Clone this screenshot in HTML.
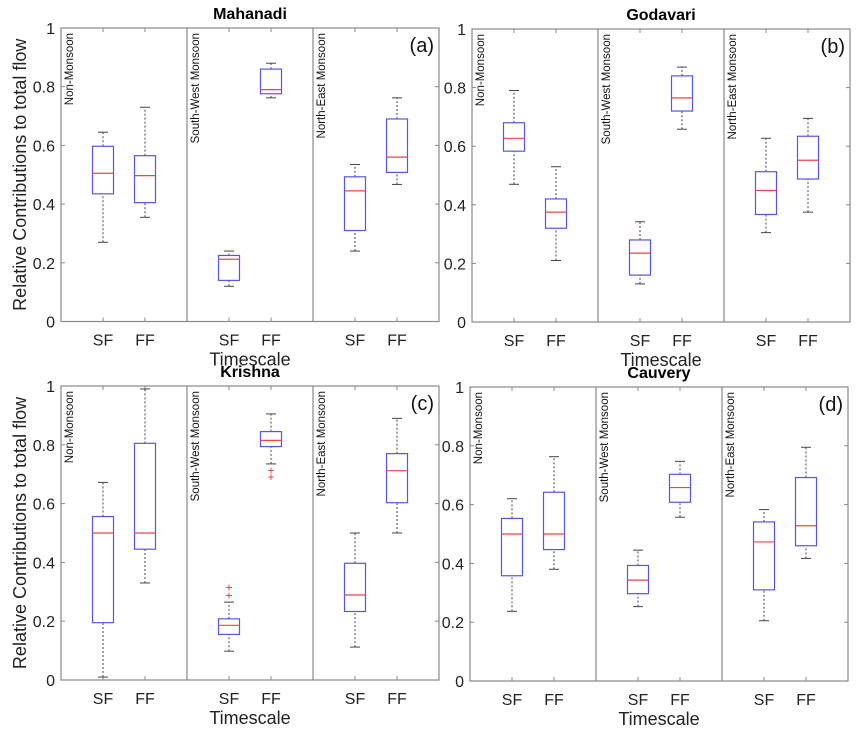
<!DOCTYPE html>
<html><head><meta charset="utf-8"><style>body{margin:0;background:#fff}svg{display:block}text{font-family:"Liberation Sans",Arial,sans-serif}</style></head>
<body>
<svg id="c" width="862" height="735" viewBox="0 0 862 735"></svg>
<script>
const panelNames = ["Mahanadi","Godavari","Krishna","Cauvery"];
const panelLetters = ["(a)","(b)","(c)","(d)"];
const seasons = ["Non-Monsoon","South-West Monsoon","North-East Monsoon"];
const categories = ["SF","FF"];
const yTicks = [0,0.2,0.4,0.6,0.8,1];
const yTickLabels = ["0","0.2","0.4","0.6","0.8","1"];
// [low whisker, q1, median, q3, high whisker] per panel, per season, per SF/FF
const mahanadi = [[[.27,.435,.505,.597,.645],[.355,.405,.497,.565,.73]],[[.12,.14,.212,.225,.24],[.762,.776,.79,.86,.88]],[[.24,.31,.445,.493,.535],[.467,.508,.56,.69,.762]]];
const godavari = [[[.47,.583,.627,.68,.79],[.21,.32,.375,.42,.53]],[[.13,.16,.235,.28,.342],[.658,.72,.765,.84,.87]],[[.305,.367,.449,.513,.627],[.375,.488,.552,.634,.695]]];
const krishna = [[[.01,.195,.5,.556,.672],[.33,.445,.5,.805,.99]],[[.098,.155,.186,.208,.265],[.735,.794,.815,.845,.905]],[[.112,.233,.289,.397,.5],[.5,.603,.712,.77,.89]]];
const cauvery = [[[.237,.358,.5,.553,.62],[.38,.447,.5,.642,.763]],[[.253,.297,.343,.393,.445],[.557,.608,.658,.703,.747]],[[.205,.31,.473,.541,.583],[.417,.46,.528,.692,.795]]];
const krishnaOutliers = [[],[[.288,.315],[.713,.69]],[]];
const panelData = [mahanadi,godavari,krishna,cauvery];
const panelOutliers = [[[],[],[]],[[],[],[]],krishnaOutliers,[[],[],[]]];

const svg = document.getElementById('c');
const NS = "http://www.w3.org/2000/svg";
function mk(tag, attrs, parent){const e=document.createElementNS(NS,tag);for(const k in attrs)e.setAttribute(k,attrs[k]);(parent||svg).appendChild(e);return e;}
const frames = [{l:61,t:28,b:321.5,r:439},{l:472,t:29,b:322,r:850},{l:61,t:386,b:680,r:439},{l:470,t:387,b:681,r:848}];

frames.forEach((f,pi)=>{
  const g = mk('g',{});
  
  
  const W=f.r-f.l, gw=W/3;
  const y = v => f.b - v*(f.b-f.t);
  const x = (s,c) => f.l + s*gw + gw/3*(c+1);
  const fr = mk('rect',{x:f.l,y:f.t,width:W,height:f.b-f.t,fill:'none',stroke:'#888','stroke-width':1.2},g);
  
  
  yTicks.forEach((v,i)=>{
    mk('line',{x1:f.l,x2:f.l+4,y1:y(v),y2:y(v),stroke:'#888'},g);
    mk('line',{x1:f.r,x2:f.r-4,y1:y(v),y2:y(v),stroke:'#888'},g);
    const t = mk('text',{x:f.l-6,y:y(v)+6,'text-anchor':'end','font-size':16,fill:'#222'},g);
    t.textContent = yTickLabels[i];
    
    
  });
  for(let s=0;s<3;s++){
    if(s>0) mk('line',{x1:f.l+s*gw,x2:f.l+s*gw,y1:f.t,y2:f.b,stroke:'#888','stroke-width':1.2},g);
    const sl = mk('text',{transform:`translate(${f.l+s*gw+12},${f.t+5}) rotate(-90)`,'text-anchor':'end','font-size':11.5,fill:'#111'},g);
    sl.textContent = seasons[s];
    
    
    categories.forEach((cat,c)=>{
      const d = panelData[pi][s][c], cx = x(s,c);
      mk('line',{x1:cx,x2:cx,y1:f.b,y2:f.b-4,stroke:'#888'},g);
      mk('line',{x1:cx,x2:cx,y1:f.t,y2:f.t+4,stroke:'#888'},g);
      const xl = mk('text',{x:cx,y:f.b+24,'text-anchor':'middle','font-size':16,fill:'#222'},g);
      xl.textContent = cat;
      
      
      const bx = mk('g',{},g);
      
      
      mk('line',{x1:cx,x2:cx,y1:y(d[0]),y2:y(d[1]),stroke:'#444','stroke-dasharray':'2,2'},bx);
      mk('line',{x1:cx,x2:cx,y1:y(d[3]),y2:y(d[4]),stroke:'#444','stroke-dasharray':'2,2'},bx);
      mk('line',{x1:cx-5,x2:cx+5,y1:y(d[0]),y2:y(d[0]),stroke:'#444'},bx);
      mk('line',{x1:cx-5,x2:cx+5,y1:y(d[4]),y2:y(d[4]),stroke:'#444'},bx);
      mk('rect',{x:cx-10.5,y:y(d[3]),width:21,height:y(d[1])-y(d[3]),fill:'none',stroke:'#5555ee','stroke-width':1.2},bx);
      mk('line',{x1:cx-10.5,x2:cx+10.5,y1:y(d[2]),y2:y(d[2]),stroke:'#ee4444','stroke-width':1.2},bx);
      const outs = panelOutliers[pi][s][c]||[];
      outs.forEach(o=>{
        const p = mk('text',{x:cx,y:y(o)+4,'text-anchor':'middle','font-size':12,fill:'#ee3333'},bx);
        p.textContent = '+';
        
        
      });
    });
  }
  const ti = mk('text',{x:f.l+W/2,y:f.t-9,'text-anchor':'middle','font-size':16,'font-weight':'bold',fill:'#000'},g);
  ti.textContent = panelNames[pi];
  
  
  const pl = mk('text',{x:f.r-5,y:f.t+24,'text-anchor':'end','font-size':20,fill:'#111'},g);
  pl.textContent = panelLetters[pi];
  
  
  const xt = mk('text',{x:f.l+W/2,y:f.b+44,'text-anchor':'middle','font-size':18,fill:'#222'},g);
  xt.textContent = 'Timescale';
  
  
  if(pi%2===0){
    const yt = mk('text',{transform:`translate(26,${(f.t+f.b)/2}) rotate(-90)`,'text-anchor':'middle','font-size':18,fill:'#222'},g);
    yt.textContent = 'Relative Contributions to total flow';
    
    
  }
});
</script>
</body></html>
